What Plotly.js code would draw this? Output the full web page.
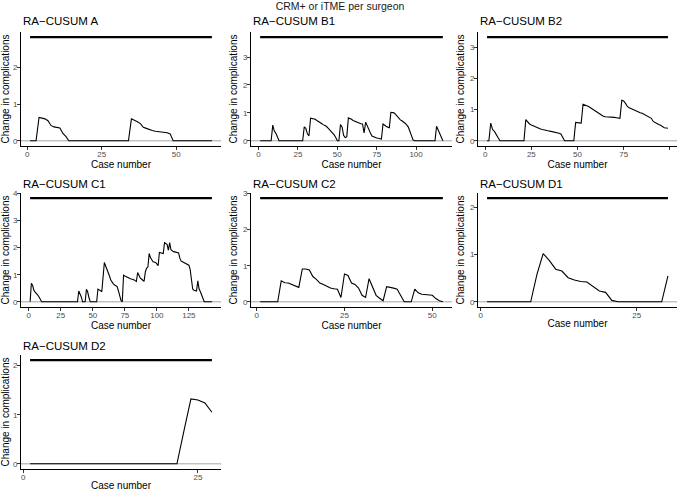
<!DOCTYPE html>
<html><head><meta charset="utf-8">
<script src="https://cdn.plot.ly/plotly-3.0.1.min.js"></script>
<style>html,body{margin:0;padding:0;background:#fff}#chart{width:677px;height:493px}</style>
</head><body><div id="chart"></div>
<script>
const panelTitles = ["RA\u2212CUSUM A","RA\u2212CUSUM B1","RA\u2212CUSUM B2","RA\u2212CUSUM C1","RA\u2212CUSUM C2","RA\u2212CUSUM D1","RA\u2212CUSUM D2"];
const suptitle = "CRM+ or iTME per surgeon";
const xTitle = "Case number";
const yTitle = "Change in complications";

const yA = [0,0,0,0.64,0.63,0.6,0.55,0.42,0.38,0.37,0.35,0.2,0.12,0,
  0,0,0,0,0,0,0,0,0,0,0,0,0,0,0,0,0,0,0,0,
  0.6,0.57,0.52,0.47,0.37,0.34,0.3,0.28,0.26,0.25,0.24,0.23,0.22,0.19,0,
  0,0,0,0,0,0,0,0,0,0,0,0,0];
const yB1 = [0,0,0,0,0,0,0,0,
  0.56,0.35,0.27,0.13,
  0,0,0,0,0,0,0,0,0,0,0,0,0,0,0,0,
  0.5,0.45,0.25,0.18,0.81,0.8,0.79,0.77,0.73,0.7,0.66,0.62,0.58,0.55,0.52,0.46,0.4,0.34,0.28,0.21,0.12,0,
  0,
  0.58,0.5,0.2,0.12,0.14,0.82,0.8,0.77,0.73,0.7,0.67,0.64,0.62,0.61,0.6,0.28,0.67,0.54,0.36,0.28,0.17,0.14,0.12,0.1,0.09,0.08,0.06,
  0.6,0.55,0.52,0.49,0.47,1.02,1.01,1.0,0.95,0.88,0.8,0.75,0.72,0.69,0.63,0.57,0.5,0.35,0.18,0.04,
  0,0,0,0,0,0,0,0,0,0,0,0,0,0,
  0.52,0.4,0.28,0.12,0];
const yB2 = [0,0,
  0.57,0.36,0.3,0.18,0.1,0,
  0,0,0,0,0,0,0,0,0,0,0,0,0,
  0.68,0.6,0.54,0.51,0.48,0.45,0.42,0.4,0.38,0.36,0.34,0.33,0.32,0.31,0.3,0.28,0.27,0.26,0.24,0.22,0.12,0,
  0,0,0,0,0,
  0.59,0.58,0.58,0.57,1.17,
  1.15,1.13,1.1,1.06,1.02,0.98,0.94,0.9,0.86,0.82,0.79,0.77,0.77,0.76,0.76,0.75,0.75,0.74,0.73,0.72,1.3,
  1.28,1.2,1.1,1.06,1.03,1.0,0.98,0.95,0.92,0.9,0.88,0.85,0.82,0.8,0.76,0.72,0.62,0.58,0.55,0.52,0.5,0.45,0.42,0.41,0.4];
const yC1 = [0,0.68,0.6,0.42,0.36,0.32,0.25,0.18,0.08,0,
  0,0,0,0,0,0,0,0,0,0,0,0,0,0,0,0,0,0,0,0,0,0,0,0,0,0,0,0,
  0.4,0.3,0.18,0,0,0,0.46,0.36,0.15,0,
  0,0,0,0,0,
  0.47,0.45,0.41,0.37,0.9,1.45,1.32,1.2,1.12,0.95,0.8,0.71,0.66,0.62,0.59,0.56,0.4,0.22,0.05,0,
  0.98,0.95,0.92,0.9,0.88,0.86,0.84,0.83,0.81,0.78,0.75,1.08,0.95,0.88,0.84,0.8,0.75,
  1.1,1.24,1.28,1.78,1.63,1.52,1.48,1.47,1.45,1.4,1.33,1.82,1.8,1.79,1.78,2.18,2.16,2.12,1.9,2.18,
  1.92,1.88,1.85,1.84,1.83,1.82,1.8,1.6,1.5,1.48,1.45,1.42,1.39,1.37,1.35,
  1.2,0.75,0.47,0.43,0.41,0.4,0.77,0.47,0.37,0.25,0.1,0,
  0,0,0,0,0,0];
const yC2 = [0,0,0,0,0,0,
  0.58,0.53,0.52,0.48,0.42,0.4,0.91,0.91,0.88,0.7,0.62,0.52,0.48,0.42,0.38,0.36,0.35,0.12,
  0.77,0.73,0.52,0.48,0.38,0.18,0.12,0.64,0.42,0.18,0.1,0.03,
  0.42,0.41,0.38,0.35,0.18,0,0,0,
  0.35,0.25,0.21,0.2,0.19,0.18,0.09,0.03,0];
const yD1 = [0,0,0,0,0,0,0,0,
  0.58,1.02,0.87,0.69,0.65,0.51,0.46,0.43,0.42,0.33,0.23,0.2,0.03,0,
  0,0,0,0,0,0,0,
  0.55];
const yD2 = [0,0,0,0,0,0,0,0,0,0,0,0,0,0,0,0,0,0,0,0,0,0,
  0.67,1.32,1.3,1.24,1.05];

const thresholds = [2.83, 3.71, 3.32, 3.82, 2.87, 2.19, 2.11];
const xTickVals = [[0,25,50],[0,25,50,75,100],[0,25,50,75,100],[0,25,50,75,100,125],[0,25,50],[0,25],[0,25]];
const yTickVals = [[0,1,2],[0,1,2,3],[0,1,2,3],[0,1,2,3,4],[0,1,2,3],[0,1,2],[0,1,2]];
const series = [yA, yB1, yB2, yC1, yC2, yD1, yD2];

const W = 677, H = 493;
const FONT = "Liberation Sans, Arial, Helvetica, sans-serif";
const colPx = [[21,221],[251,452],[478,677]];
const rowPx = [[32,146],[193,307],[355,469]];
const titleYPx = [21, 183.5, 345.5];

const traces = [];
const shapes = [];
const annotations = [];
const layout = {
  width: W, height: H,
  margin: {l:0, r:0, t:0, b:0},
  paper_bgcolor: '#ffffff',
  plot_bgcolor: 'rgba(0,0,0,0)',
  showlegend: false,
  font: {family: FONT, color: '#000'},
  title: {text: suptitle, x: 340/W, xanchor: 'center', y: 1 - 6.5/H, yanchor: 'middle', yref: 'paper',
          font: {family: FONT, size: 10.5, color: '#1a1a1a'}},
  shapes: shapes,
  annotations: annotations
};

series.forEach((ys, i) => {
  const s = i === 0 ? '' : String(i + 1);
  const row = Math.floor(i / 3), col = i % 3;
  const N = ys.length;
  const cases = ys.map((_, k) => k + 1);
  const T = thresholds[i];
  const xa = 'x' + s, ya = 'y' + s;

  traces.push({x: cases, y: cases.map(() => T), xaxis: xa, yaxis: ya, type: 'scatter', mode: 'lines',
               line: {color: '#000', width: 2.2}, hoverinfo: 'skip'});
  traces.push({x: cases, y: ys, xaxis: xa, yaxis: ya, type: 'scatter', mode: 'lines',
               line: {color: '#000', width: 1.1}});

  shapes.push({type: 'line', xref: xa + ' domain', yref: ya, x0: 0, x1: 1, y0: 0, y1: 0,
               line: {color: '#a3a3a3', width: 1}, layer: 'below'});

  const pad = 0.05 * (N - 1);
  const axCommon = {
    showline: true, linecolor: '#000', linewidth: 1, mirror: false,
    ticks: 'outside', ticklen: 3, tickwidth: 1, tickcolor: '#333',
    tickfont: {family: FONT, size: 8, color: '#4d4d4d'},
    showgrid: false, zeroline: false, fixedrange: true
  };
  layout['xaxis' + s] = Object.assign({}, axCommon, {
    domain: [colPx[col][0] / W, colPx[col][1] / W],
    range: [1 - pad, N + pad], anchor: ya, tickvals: xTickVals[i],
    ticklabelstandoff: -3,
    title: {text: xTitle, font: {family: FONT, size: 10, color: '#000'}, standoff: 1}
  });
  layout['yaxis' + s] = Object.assign({}, axCommon, {
    domain: [1 - rowPx[row][1] / H, 1 - rowPx[row][0] / H],
    range: [-0.05 * T, 1.05 * T], anchor: xa, tickvals: yTickVals[i],
    ticklabelstandoff: -2,
    title: {text: yTitle, font: {family: FONT, size: 10, color: '#000'}, standoff: 3}
  });

  annotations.push({text: panelTitles[i], xref: 'paper', yref: 'paper',
    x: colPx[col][0] / W, xanchor: 'left', y: 1 - titleYPx[row] / H, yanchor: 'middle',
    showarrow: false, font: {family: FONT, size: 11.5, color: '#000'}});
});

Plotly.newPlot('chart', traces, layout, {displayModeBar: false, staticPlot: true});
</script>
</body></html>
